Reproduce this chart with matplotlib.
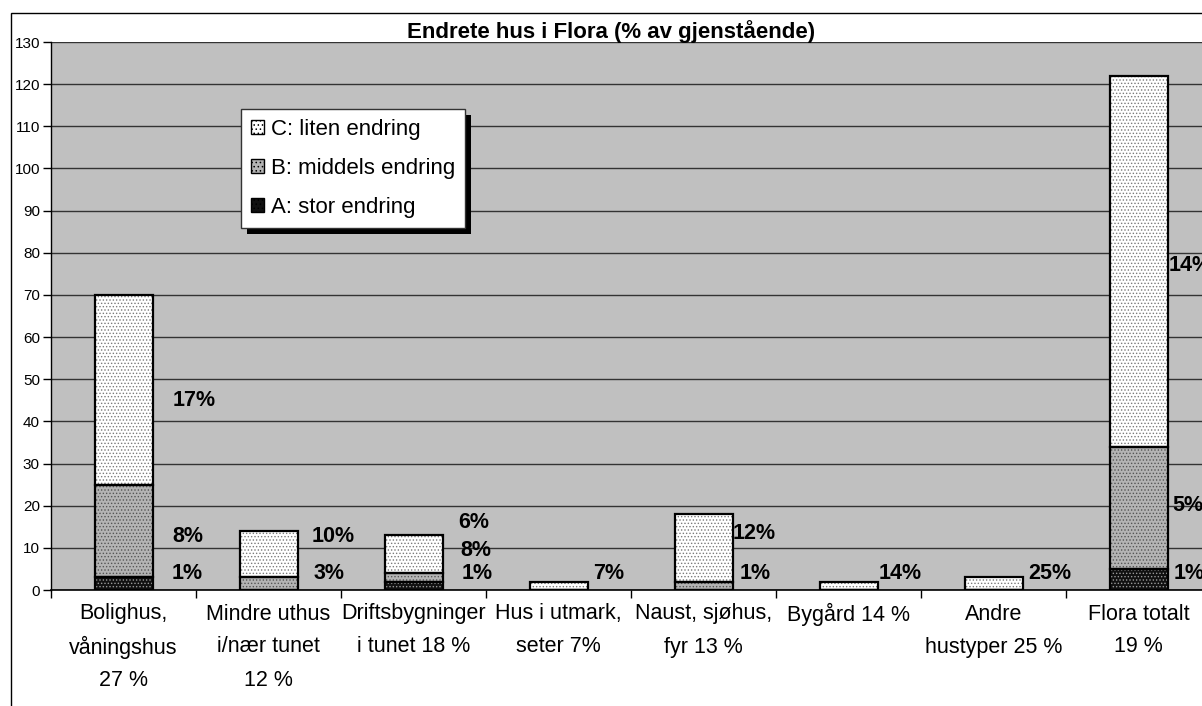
import matplotlib
matplotlib.use("Agg")
import matplotlib.pyplot as plt
from matplotlib.patches import Rectangle
from matplotlib.transforms import IdentityTransform
import numpy as np

plt.rcParams['font.family'] = ['Liberation Sans', 'DejaVu Sans']
plt.rcParams['hatch.linewidth'] = 0.6

# ---------------- data ----------------
categories = ["Bolighus,\nvåningshus\n27 %", "Mindre uthus\ni/nær tunet\n12 %",
              "Driftsbygninger\ni tunet 18 %", "Hus i utmark,\nseter 7%",
              "Naust, sjøhus,\nfyr 13 %", "Bygård 14 %", "Andre\nhustyper 25 %",
              "Flora totalt\n19 %"]
a_stor = [3, 0, 2, 0, 0, 0, 0, 5]
b_middels = [22, 3, 2, 0, 2, 0, 0, 29]
c_liten = [45, 11, 9, 2, 16, 2, 3, 88]
series_names = ["C: liten endring", "B: middels endring", "A: stor endring"]
title = "Endrete hus i Flora (% av gjenstående)"
y_ticks = list(range(0, 131, 10))

# percentage annotations: (category index, text)
pct_labels = [(0, "17%"), (0, "8%"), (0, "1%"),
              (1, "10%"), (1, "3%"),
              (2, "6%"), (2, "8%"), (2, "1%"),
              (3, "7%"),
              (4, "12%"), (4, "1%"),
              (5, "14%"), (6, "25%"),
              (7, "14%"), (7, "5%"), (7, "1%")]

# ---------------- layout (annotation placement) ----------------
pct_pos = [(0.34, 45), (0.34, 12.6), (0.33, 4.0),
           (0.30, 12.6), (0.31, 4.0),
           (0.31, 15.9), (0.32, 9.4), (0.33, 3.8),
           (0.24, 4.0),
           (0.20, 13.5), (0.25, 4.0),
           (0.21, 4.0), (0.24, 4.0),
           (0.21, 77), (0.235, 20), (0.24, 4.0)]

W, H = 1202, 706
fig = plt.figure(figsize=(W / 100, H / 100), dpi=100)
fig.patch.set_facecolor('white')

# outer chart border
fig.patches.append(Rectangle((11 / W, -0.1), 1.2, 1 - 13 / H + 0.1, transform=fig.transFigure,
                             fill=False, edgecolor='black', linewidth=1.0, zorder=0))

ax_left, ax_right = 51, 1211
ax_top, ax_bottom = 42, 590
ax = fig.add_axes([ax_left / W, (H - ax_bottom) / H, (ax_right - ax_left) / W, (ax_bottom - ax_top) / H])
ax.set_facecolor('#C0C0C0')

x = np.arange(len(categories))
width = 0.4

a = np.array(a_stor, dtype=float)
b = np.array(b_middels, dtype=float)
c = np.array(c_liten, dtype=float)

specs = [
    (a, np.zeros_like(a), '#111111', '#9a9a9a', series_names[2]),
    (b, a, '#B4B4B4', '#555555', series_names[1]),
    (c, a + b, '#FFFFFF', '#7a7a7a', series_names[0]),
]
handles = {}
for vals, bottom, face, hcol, name in specs:
    ax.bar(x, vals, width, bottom=bottom, color=face, edgecolor='none', zorder=3)
    ax.bar(x, vals, width, bottom=bottom, color='none', edgecolor=hcol, hatch='.....',
           linewidth=0, zorder=3.1)
    ax.bar(x, vals, width, bottom=bottom, color='none', edgecolor='black', linewidth=1.6, zorder=3.2)
    h = Rectangle((0, 0), 1, 1, facecolor=face, edgecolor='black', hatch='....', linewidth=1.0)
    handles[name] = h

for (i, txt), (dx, yy) in zip(pct_labels, pct_pos):
    ax.text(i + dx, yy, txt, fontsize=15.5, fontweight='bold', ha='left', va='center', zorder=5)

ax.set_xlim(-0.5, len(categories) - 0.5)
ax.set_ylim(0, 130)
ax.set_yticks(y_ticks)
ax.set_yticklabels([str(v) for v in y_ticks], fontsize=11)
ax.yaxis.grid(True, color='#333333', linewidth=1.0, zorder=1)
ax.set_axisbelow(True)

ax.set_xticks(x)
ax.set_xticklabels([])
for i, lab in enumerate(categories):
    for k, line in enumerate(lab.split("\n")):
        ax.annotate(line, xy=(i, 0), xycoords=('data', 'axes fraction'),
                    xytext=(0, -24 - 33 * k), textcoords='offset pixels',
                    ha='center', va='center', fontsize=15.5, annotation_clip=False)
ax.tick_params(axis='x', length=0)
ax.set_xticks(np.arange(-0.5, len(categories) + 0.5, 1), minor=True)
ax.tick_params(axis='x', which='minor', length=6, width=1, color='black', direction='out')
ax.tick_params(axis='y', length=6, width=1, direction='out', pad=2)

for s in ['top', 'right']:
    ax.spines[s].set_visible(False)
ax.spines['left'].set_color('black')
ax.spines['bottom'].set_color('black')
ax.spines['left'].set_linewidth(1.0)
ax.spines['bottom'].set_linewidth(1.2)

fig.text(611 / W, 1 - 32 / H, title, fontsize=16, fontweight='bold', ha='center', va='center')

leg_x = (241 - ax_left) / (ax_right - ax_left)
leg_y = (ax_bottom - 109) / (ax_bottom - ax_top)
leg = ax.legend([handles[n] for n in series_names], series_names, loc='upper left',
                bbox_to_anchor=(leg_x, leg_y), borderaxespad=0, fontsize=16,
                frameon=True, fancybox=False, framealpha=1, edgecolor='#333333',
                handlelength=0.6, handleheight=0.6, handletextpad=0.3,
                labelspacing=0.8, borderpad=0.45)
leg.get_frame().set_linewidth(1.0)
leg.set_zorder(6)

fig.canvas.draw()
bb = leg.get_window_extent()
ax.add_artist(Rectangle((bb.x0 + 6, bb.y0 - 6), bb.width, bb.height, transform=IdentityTransform(),
                        facecolor='black', edgecolor='none', zorder=5.5, clip_on=False))

fig.savefig("out.png", dpi=100)
